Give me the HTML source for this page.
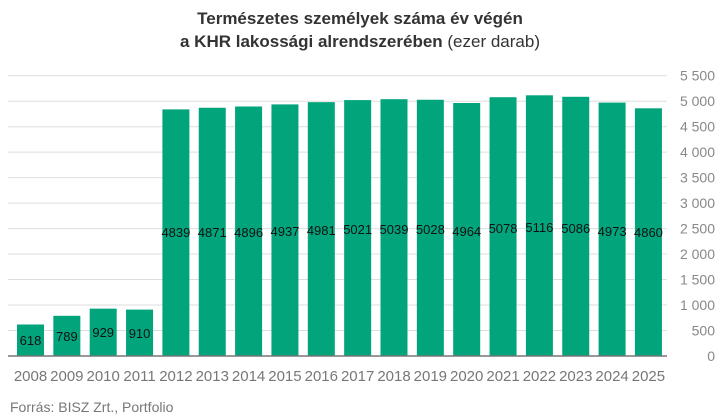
<!DOCTYPE html><html><head><style>body{margin:0;background:#fff}</style></head><body>
<svg width="718" height="415" xmlns="http://www.w3.org/2000/svg" font-family="Liberation Sans, sans-serif">
<text x="360" y="24" text-anchor="middle" font-size="17" font-weight="bold" fill="#333">Természetes személyek száma év végén</text>
<text x="360" y="47" text-anchor="middle" font-size="17" fill="#333"><tspan font-weight="bold">a KHR lakossági alrendszerében</tspan> (ezer darab)</text>
<g stroke="#ddd" stroke-width="1">
<line x1="8" x2="667" y1="330.5" y2="330.5"/><line x1="8" x2="667" y1="305" y2="305"/><line x1="8" x2="667" y1="279.5" y2="279.5"/><line x1="8" x2="667" y1="254" y2="254"/><line x1="8" x2="667" y1="228.6" y2="228.6"/><line x1="8" x2="667" y1="203.1" y2="203.1"/><line x1="8" x2="667" y1="177.6" y2="177.6"/><line x1="8" x2="667" y1="152.1" y2="152.1"/><line x1="8" x2="667" y1="126.7" y2="126.7"/><line x1="8" x2="667" y1="101.2" y2="101.2"/><line x1="8" x2="667" y1="75.7" y2="75.7"/>
</g>
<g font-size="14" fill="#888" text-anchor="end">
<text x="715" y="361">0</text><text x="715" y="335.5">500</text><text x="715" y="310">1 000</text><text x="715" y="284.5">1 500</text><text x="715" y="259">2 000</text><text x="715" y="233.6">2 500</text><text x="715" y="208.1">3 000</text><text x="715" y="182.6">3 500</text><text x="715" y="157.1">4 000</text><text x="715" y="131.7">4 500</text><text x="715" y="106.2">5 000</text><text x="715" y="80.7">5 500</text>
</g>
<g fill="#02a47c">
<rect x="17" y="324.5" width="27" height="31.5"/><rect x="53.35" y="315.8" width="27" height="40.2"/><rect x="89.7" y="308.65" width="27" height="47.35"/><rect x="126.05" y="309.6" width="27" height="46.4"/><rect x="162.4" y="109.4" width="27" height="246.6"/><rect x="198.75" y="107.75" width="27" height="248.25"/><rect x="235.1" y="106.5" width="27" height="249.5"/><rect x="271.45" y="104.4" width="27" height="251.6"/><rect x="307.8" y="102.15" width="27" height="253.85"/><rect x="344.15" y="100.1" width="27" height="255.9"/><rect x="380.5" y="99.2" width="27" height="256.8"/><rect x="416.85" y="99.75" width="27" height="256.25"/><rect x="453.2" y="103" width="27" height="253"/><rect x="489.55" y="97.2" width="27" height="258.8"/><rect x="525.9" y="95.3" width="27" height="260.7"/><rect x="562.25" y="96.8" width="27" height="259.2"/><rect x="598.6" y="102.6" width="27" height="253.4"/><rect x="634.95" y="108.3" width="27" height="247.7"/>
</g>
<g font-size="13" fill="#111" text-anchor="middle">
<text x="30.5" y="345">618</text><text x="66.85" y="341">789</text><text x="103.2" y="337">929</text><text x="139.55" y="338">910</text>
<text x="175.9" y="237">4839</text><text x="212.25" y="237">4871</text><text x="248.6" y="237">4896</text><text x="284.95" y="236">4937</text><text x="321.3" y="235">4981</text><text x="357.65" y="234">5021</text><text x="394" y="234">5039</text><text x="430.35" y="234">5028</text><text x="466.7" y="236">4964</text><text x="503.05" y="233">5078</text><text x="539.4" y="232">5116</text><text x="575.75" y="233">5086</text><text x="612.1" y="236">4973</text><text x="648.45" y="237">4860</text>
</g>
<line x1="8" x2="667" y1="356" y2="356" stroke="#777" stroke-width="1.5"/>
<g font-size="15" fill="#777" text-anchor="middle">
<text x="30.5" y="381">2008</text><text x="66.85" y="381">2009</text><text x="103.2" y="381">2010</text><text x="139.55" y="381">2011</text><text x="175.9" y="381">2012</text><text x="212.25" y="381">2013</text><text x="248.6" y="381">2014</text><text x="284.95" y="381">2015</text><text x="321.3" y="381">2016</text><text x="357.65" y="381">2017</text><text x="394" y="381">2018</text><text x="430.35" y="381">2019</text><text x="466.7" y="381">2020</text><text x="503.05" y="381">2021</text><text x="539.4" y="381">2022</text><text x="575.75" y="381">2023</text><text x="612.1" y="381">2024</text><text x="648.45" y="381">2025</text>
</g>
<text x="10" y="412" font-size="14" fill="#777">Forrás: BISZ Zrt., Portfolio</text>
</svg></body></html>
